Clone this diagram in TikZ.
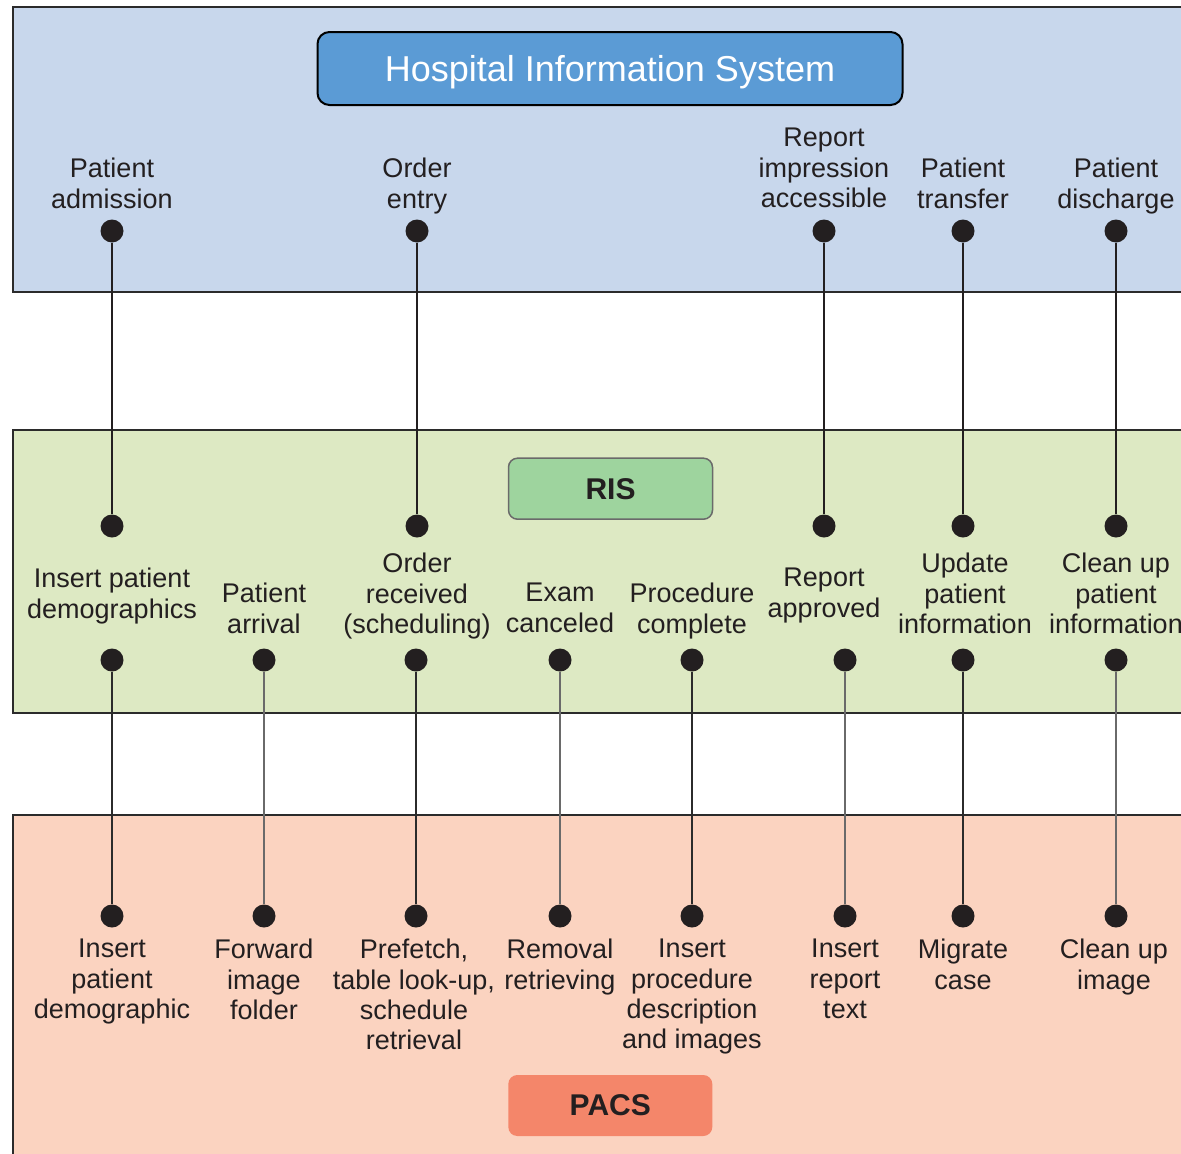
\documentclass[tikz,border=0pt]{standalone}
\usepackage{fontspec}
\setmainfont{Liberation Sans}
\definecolor{ink}{HTML}{231F20}
\definecolor{hisbg}{HTML}{C8D7EC}
\definecolor{risbg}{HTML}{DDE9C3}
\definecolor{pacsbg}{HTML}{FBD3C0}
\definecolor{hisbox}{HTML}{5B9BD5}
\definecolor{risbox}{HTML}{9ED49E}
\definecolor{pacsbox}{HTML}{F4866A}
\definecolor{frame}{HTML}{2B2B2B}
\definecolor{thin}{HTML}{6A6A6A}
\newcommand\lblstrut{\rule{0pt}{22pt}}
\begin{document}
\begin{tikzpicture}[x=1pt,y=-1pt,
  panel/.style={draw=frame,line width=2.6pt},
  lbl/.style={align=center,anchor=north,inner sep=0pt,text=ink,
    font=\fontsize{27}{30.3}\selectfont,execute at begin node={\lblstrut}},
  dot/.style={circle,fill=ink,inner sep=0pt,minimum size=23pt},
  upper/.style={draw=ink,line width=2.5pt},
  lowerdark/.style={draw=frame,line width=1.7pt},
  lowerlight/.style={draw=thin,line width=1.7pt},
  sysbox/.style={rounded corners=9pt,inner sep=0pt,minimum width=204pt,minimum height=61pt,
    font=\bfseries\fontsize{30}{36}\selectfont,text=ink}]
\useasboundingbox (0,0) rectangle (1181,1154);
\clip (0,0) rectangle (1181,1154);

% three system bands, open on the right
\fill[hisbg] (13,7) rectangle (1200,292);
\draw[panel] (1200,7) -- (13,7) -- (13,292) -- (1200,292);
\fill[risbg] (13,430) rectangle (1200,713);
\draw[panel] (1200,430) -- (13,430) -- (13,713) -- (1200,713);
\fill[pacsbg] (13,815) rectangle (1200,1200);
\draw[panel] (1200,815) -- (13,815) -- (13,1200);

% system titles
\node[rounded corners=12pt,draw=black,line width=2pt,fill=hisbox,minimum width=585pt,
  minimum height=73pt,inner sep=0pt,text=white,text depth=0pt,font=\fontsize{36}{40}\selectfont]
  (his) at (610,68.5) {Hospital Information System};
\node[sysbox,draw=thin,line width=1.5pt,fill=risbox] (ris) at (610.5,488.7) {RIS};
\node[sysbox,fill=pacsbox] (pacs) at (610.3,1105.5) {PACS};

% HIS events
\node[lbl] (hl1) at (112,158) {Patient\\admission};
\node[lbl] (hl2) at (417,158) {Order\\entry};
\node[lbl] (hl3) at (824,128) {Report\\impression\\accessible};
\node[lbl] (hl4) at (963,158) {Patient\\transfer};
\node[lbl] (hl5) at (1116,158) {Patient\\discharge};
\node[dot] (h1) at (112,231) {};
\node[dot] (h2) at (417,231) {};
\node[dot] (h3) at (824,231) {};
\node[dot] (h4) at (963,231) {};
\node[dot] (h5) at (1116,231) {};

% RIS events
\node[dot] (ra1) at (112,526) {};
\node[dot] (ra2) at (417,526) {};
\node[dot] (ra3) at (824,526) {};
\node[dot] (ra4) at (963,526) {};
\node[dot] (ra5) at (1116,526) {};
\node[lbl] (rl1) at (112,568) {Insert patient\\demographics};
\node[lbl] (rl2) at (264,583) {Patient\\arrival};
\node[lbl] (rl3) at (417,553) {Order\\received\\(scheduling)};
\node[lbl] (rl4) at (560,583) {Exam\\canceled};
\node[lbl] (rl5) at (692,583) {Procedure\\complete};
\node[lbl] (rl6) at (824,568) {Report\\approved};
\node[lbl] (rl7) at (965,553) {Update\\patient\\information};
\node[lbl] (rl8) at (1116,553) {Clean up\\patient\\information};
\node[dot] (rb1) at (112,660) {};
\node[dot] (rb2) at (264,660) {};
\node[dot] (rb3) at (416,660) {};
\node[dot] (rb4) at (560,660) {};
\node[dot] (rb5) at (692,660) {};
\node[dot] (rb6) at (845,660) {};
\node[dot] (rb7) at (963,660) {};
\node[dot] (rb8) at (1116,660) {};

% PACS events
\node[dot] (p1) at (112,916) {};
\node[dot] (p2) at (264,916) {};
\node[dot] (p3) at (416,916) {};
\node[dot] (p4) at (560,916) {};
\node[dot] (p5) at (692,916) {};
\node[dot] (p6) at (845,916) {};
\node[dot] (p7) at (963,916) {};
\node[dot] (p8) at (1116,916) {};
\node[lbl] (pl1) at (112,939) {Insert\\patient\\demographic};
\node[lbl] (pl2) at (264,939) {Forward\\image\\folder};
\node[lbl] (pl3) at (414,939) {Prefetch,\\table look-up,\\schedule\\retrieval};
\node[lbl] (pl4) at (560,939) {Removal\\retrieving};
\node[lbl] (pl5) at (692,939) {Insert\\procedure\\description\\and images};
\node[lbl] (pl6) at (845,939) {Insert\\report\\text};
\node[lbl] (pl7) at (963,939) {Migrate\\case};
\node[lbl] (pl8) at (1114,939) {Clean up\\image};

% HIS to RIS links
\draw[upper] (h1) -- (ra1);
\draw[upper] (h2) -- (ra2);
\draw[upper] (h3) -- (ra3);
\draw[upper] (h4) -- (ra4);
\draw[upper] (h5) -- (ra5);

% RIS to PACS links
\draw[lowerdark] (rb1) -- (p1);
\draw[lowerlight] (rb2) -- (p2);
\draw[lowerdark] (rb3) -- (p3);
\draw[lowerlight] (rb4) -- (p4);
\draw[lowerdark] (rb5) -- (p5);
\draw[lowerlight] (rb6) -- (p6);
\draw[lowerdark] (rb7) -- (p7);
\draw[lowerlight] (rb8) -- (p8);
\end{tikzpicture}
\end{document}
